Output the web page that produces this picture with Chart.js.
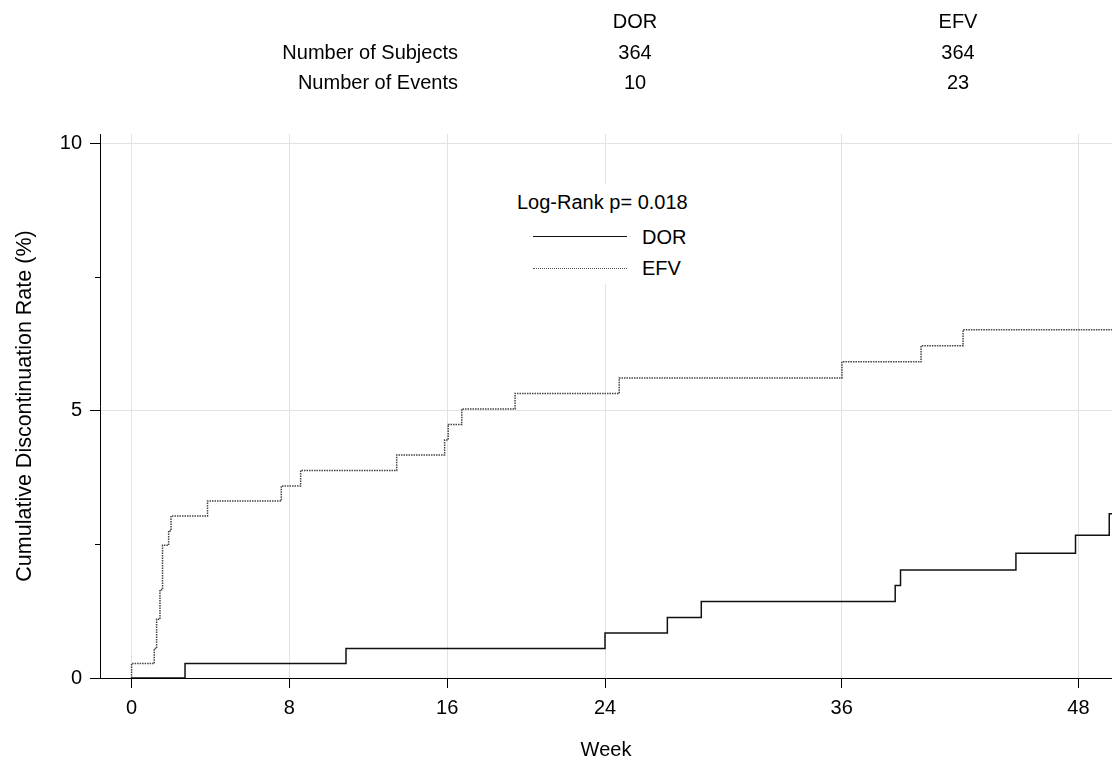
<!DOCTYPE html>
<html>
<head>
<meta charset="utf-8">
<script src="https://cdn.jsdelivr.net/npm/chart.js@4"></script>
<style>
  body { margin: 0; background: #fff; }
  #wrap { position: relative; width: 1112px; height: 763px; font-family: "Liberation Sans", Arial, sans-serif; color: #000; }
  canvas { position: absolute; left: 0; top: 0; }
  .txt { position: absolute; font-size: 20px; line-height: 24px; white-space: nowrap; }
  .r { text-align: right; }
  .c { text-align: center; width: 80px; }
  #legend { position: absolute; left: 508px; top: 184px; width: 200px; height: 100px; background: #fff; }
  .sample { position: absolute; left: 25px; width: 94px; height: 0; }
</style>
</head>
<body>
<div id="wrap">
  <canvas id="kmChart" width="1112" height="763"></canvas>

  <div class="txt c" style="left:595px; top:9px;">DOR</div>
  <div class="txt c" style="left:918px; top:9px;">EFV</div>
  <div class="txt r" style="right:654px; top:40px;">Number of Subjects</div>
  <div class="txt c" style="left:595px; top:40px;">364</div>
  <div class="txt c" style="left:918px; top:40px;">364</div>
  <div class="txt r" style="right:654px; top:70px;">Number of Events</div>
  <div class="txt c" style="left:595px; top:70px;">10</div>
  <div class="txt c" style="left:918px; top:70px;">23</div>

  <div id="legend">
    <div class="txt" style="left:9px; top:6px;">Log-Rank p= 0.018</div>
    <div class="sample" style="top:52px; border-top:1.5px solid #111;"></div>
    <div class="txt" style="left:134px; top:41px;">DOR</div>
    <div class="sample" style="top:84px; border-top:1.5px dotted #555;"></div>
    <div class="txt" style="left:134px; top:72px;">EFV</div>
  </div>
</div>

<script>
// Kaplan-Meier style cumulative discontinuation
var dorWeeks = [0, 2.71, 10.87, 24.0, 27.16, 28.88, 38.71, 38.98, 44.83, 47.85, 49.56, 49.7];
var dorRate  = [0, 0.27, 0.55, 0.84, 1.13, 1.43, 1.73, 2.02, 2.33, 2.67, 3.07, 3.07];

var efvWeeks = [0, 0, 1.15, 1.27, 1.44, 1.57, 1.88, 2.00, 3.85, 7.59, 8.57, 13.44, 15.87, 16.05, 16.74, 19.44, 24.72, 36.01, 40.02, 42.15, 49.7];
var efvRate  = [0, 0.27, 0.55, 1.10, 1.65, 2.48, 2.75, 3.03, 3.31, 3.59, 3.88, 4.17, 4.45, 4.74, 5.03, 5.32, 5.61, 5.91, 6.21, 6.51, 6.51];

var weekTicks = [0, 8, 16, 24, 36, 48];
var rateTicks = [0, 2.5, 5, 7.5, 10];
var rateLabels = ['0', '', '5', '', '10'];

function toPoints(xs, ys) {
    return xs.map(function (x, i) { return { x: x, y: ys[i] }; });
}

function isMajor(v) { return v % 5 === 0; }

// short ticks for 2.5 / 7.5 on the y axis
var minorTicks = {
    id: 'minorTicks',
    afterDraw: function (chart) {
        var y = chart.scales.y, c = chart.ctx, left = chart.chartArea.left;
        c.save();
        c.strokeStyle = '#000';
        c.lineWidth = 1;
        rateTicks.forEach(function (v) {
            if (isMajor(v)) return;
            var py = Math.round(y.getPixelForValue(v)) + 0.5;
            c.beginPath();
            c.moveTo(left - 5, py);
            c.lineTo(left, py);
            c.stroke();
        });
        c.restore();
    }
};

var ctx = document.getElementById('kmChart').getContext('2d');
var kmChart = new Chart(ctx, {
    type: 'line',
    data: {
        datasets: [
            {
                label: 'DOR',
                data: toPoints(dorWeeks, dorRate),
                borderColor: '#111',
                borderWidth: 1.5,
                stepped: true,
                pointRadius: 0,
                fill: false
            },
            {
                label: 'EFV',
                data: toPoints(efvWeeks, efvRate),
                borderColor: '#444',
                borderWidth: 1.5,
                borderDash: [1.5, 1],
                stepped: true,
                pointRadius: 0,
                fill: false
            }
        ]
    },
    plugins: [minorTicks],
    options: {
        responsive: false,
        animation: false,
        layout: { padding: { top: 134, right: 0, bottom: 0, left: 0 } },
        plugins: {
            legend: { display: false },
            tooltip: { enabled: false }
        },
        scales: {
            x: {
                type: 'linear',
                min: -1.6,
                max: 49.7,
                afterBuildTicks: function (scale) {
                    scale.ticks = weekTicks.map(function (v) { return { value: v }; });
                },
                afterFit: function (scale) { scale.height = 85; },
                grid: { color: '#e3e3e3', tickColor: '#000', tickLength: 10, tickWidth: 1 },
                border: { color: '#000', width: 1 },
                ticks: {
                    color: '#000',
                    padding: 8,
                    maxRotation: 0,
                    autoSkip: false,
                    font: { family: 'Liberation Sans', size: 20 }
                },
                title: {
                    display: true,
                    text: 'Week',
                    color: '#000',
                    padding: { top: 0, bottom: 1 },
                    font: { family: 'Liberation Sans', size: 20 }
                }
            },
            y: {
                type: 'linear',
                min: 0,
                max: 10.17,
                afterBuildTicks: function (scale) {
                    scale.ticks = rateTicks.map(function (v) { return { value: v }; });
                },
                afterFit: function (scale) { scale.width = 100; },
                grid: {
                    color: function (c) { return isMajor(c.tick.value) ? '#e3e3e3' : 'rgba(0,0,0,0)'; },
                    tickColor: function (c) { return isMajor(c.tick.value) ? '#000' : 'rgba(0,0,0,0)'; },
                    tickLength: 10,
                    tickWidth: 1
                },
                border: { color: '#000', width: 1 },
                ticks: {
                    color: '#000',
                    padding: 8,
                    autoSkip: false,
                    callback: function (v, i) { return rateLabels[i]; },
                    font: { family: 'Liberation Sans', size: 20 }
                },
                title: {
                    display: true,
                    text: 'Cumulative Discontinuation Rate (%)',
                    color: '#000',
                    padding: { top: 12, bottom: 0 },
                    font: { family: 'Liberation Sans', size: 21.5 }
                }
            }
        }
    }
});
</script>
</body>
</html>
